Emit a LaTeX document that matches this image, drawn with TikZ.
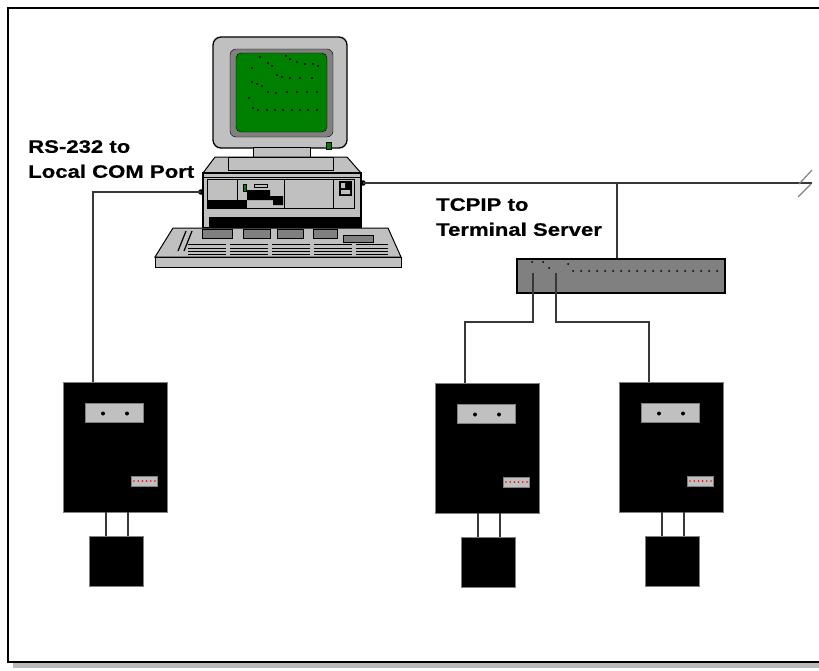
\documentclass[tikz,border=0pt]{standalone}
\usepackage{fontspec}
\newfontfamily\notefont{Liberation Sans}[FakeStretch=1.23, FakeBold=0.6]
\usetikzlibrary{positioning}

\definecolor{pcgrey}{HTML}{C0C0C0}
\definecolor{hubgrey}{HTML}{808080}
\definecolor{screengreen}{HTML}{008000}
\definecolor{wiregrey}{HTML}{383838}

\tikzset{
 pcpart/.style={draw=black, line width=1pt, fill=pcgrey},
 wire/.style={draw=wiregrey, line width=1.6pt},
 unit/.style={draw=gray, fill=black, inner sep=0, anchor=north west,
   minimum width=104pt, minimum height=130pt},
 panel/.style={draw=gray, fill=pcgrey, inner sep=0, anchor=north west,
   minimum width=58pt, minimum height=19pt},
 note/.style={font=\notefont\bfseries\fontsize{18}{25}\selectfont,
   align=left, anchor=north west, inner sep=0},
}

\begin{document}
\begin{tikzpicture}[x=1pt, y=-1pt]
    \useasboundingbox (0,0) rectangle (819,670);
    % page frame and its shadow
    \fill[gray!55] (13,663) rectangle (819,668);
    \draw[line width=2pt] (819,7.5) -- (7.5,7.5) -- (7.5,662) -- (819,662);

    % monitor
    \draw[pcpart, line width=1.3pt, rounded corners=8] (213,37) rectangle (347,148);
    \draw[fill=hubgrey, rounded corners=6] (230,49) rectangle (333,137);
    \draw[fill=screengreen, rounded corners=5] (236,53) rectangle (327,132);
    \foreach \p in {(260,57),(286,56),(290,59),(297,62),(305,64),(313,64),(318,66),
                    (252,68),(268,63),(272,66),(277,75),(282,77),(290,78),(300,78),(312,78),
                    (252,82),(257,84),(262,86),(268,92),(276,93),(287,92),(297,92),(307,92),(317,92),
                    (249,98),(253,108),(258,110),(267,110),(275,110),(283,110),(292,110),
                    (300,110),(308,110),(317,110)}
        \fill \p circle (1.2pt);
    \draw[fill=screengreen] (326,142) rectangle (331,149);

    % system unit
    \draw[pcpart] (253,147) rectangle (310,157);
    \draw[pcpart] (203,173) -- (215,157) -- (347,157) -- (361,173) -- cycle;
    \draw[pcpart] (228,157) rectangle (333,170);
    \draw[pcpart, line width=1.3pt] (203,173) rectangle (361,228);
    \draw (203,177) -- (361,177);
    \draw[pcpart] (207,179) rectangle (354,208);
    \draw (237,179) -- (237,200) (284,179) -- (284,208) (333,179) -- (333,208);
    \fill (207,200) rectangle (247,208);
    \fill (247,190) -- (270,190) -- (270,196) -- (283,196) -- (283,205)
          -- (273,205) -- (273,200) -- (247,200) -- cycle;
    \draw[fill=screengreen] (243,184) rectangle (246,191);
    \draw (254,184) rectangle (267,187);
    \fill (339,181) rectangle (352,196);
    \fill[pcgrey] (341,183) rectangle (345,188) (341,190) rectangle (350,194);
    \fill (209,217) rectangle (361,227);
    \coordinate (comL) at (201,192);
    \coordinate (comR) at (363,183);
    \fill (comL) circle (2.8pt) (comR) circle (2.8pt);

    % keyboard
    \draw[pcpart] (173,228) -- (388,228) -- (401,257) -- (155,257) -- cycle;
    \draw[pcpart] (155,257) rectangle (401,267);
    \foreach \a/\b in {202/232, 243/270, 277/303, 313/337}
        \draw[fill=hubgrey] (\a,229) rectangle (\b,238);
    \draw[fill=hubgrey] (343,235) rectangle (373,242);
    \foreach \yy in {244,248,251,254}
        \draw[line width=0.8pt, dash pattern=on 38pt off 4pt] (188,\yy) -- (388,\yy);
    \draw[line width=1.2pt] (186,231) -- (178,251) (192,231) -- (184,251);

    % terminal server
    \node[draw=black, line width=1.5pt, fill=hubgrey, inner sep=0, anchor=north west,
          minimum width=208pt, minimum height=34pt] (hub) at (516,258) {};
    \foreach \i in {0,...,18}
        \fill (573+\i*8,271) circle (1pt);
    \foreach \p in {(532,262),(543,262),(549,268),(568,264)}
        \fill \p circle (1pt);
    \coordinate (hubA) at (533,273);
    \coordinate (hubB) at (556,273);

    % the three units
    \foreach \n/\x/\y in {devA/63/382, devB/435/383, devC/619/382}{
        \node[unit] (\n) at (\x,\y) {};
        \coordinate (\n-in) at (\x+30,\y);
        \node[panel] (\n-disp) at (\x+22,\y+21) {};
        \fill (\x+40,\y+31.5) circle (2pt) (\x+64,\y+31.5) circle (2pt);
        \node[panel, minimum width=26pt, minimum height=10pt] (\n-leds) at (\x+68,\y+94) {};
        \foreach \k in {0,...,5}
            \fill[red] (\x+71+\k*4.2,\y+99) circle (0.9pt);
        \node[unit, minimum width=54pt, minimum height=50pt] (\n-pad) at (\x+26,\y+154) {};
        \draw[wire] ([xshift=17pt]\n-pad.north west) -- ([xshift=17pt]\n-pad.north west |- \n.south);
        \draw[wire] ([xshift=39pt]\n-pad.north west) -- ([xshift=39pt]\n-pad.north west |- \n.south);
    }

    % cabling
    \coordinate (tap) at (617,183);
    \coordinate (lineend) at (812,183);
    \draw[wire] (comR) -- (lineend);
    \draw[wire] (tap) -- (tap |- hub.north);
    \draw[wire] (comL) -| (devA-in);
    \draw[wire] (hubA) -- ++(0,49) -| (devB-in);
    \draw[wire] (hubB) -- ++(0,49) -| (devC-in);
    \draw[wire, gray, line width=1.2pt] (799,184) -- (812,170) (798,197) -- (811,184);

    \node[note] (rslabel) at (28,140) {RS-232 to\\Local COM Port};
    \node[note] (tcplabel) at (436,198) {TCPIP to\\Terminal Server};
\end{tikzpicture}
\end{document}
